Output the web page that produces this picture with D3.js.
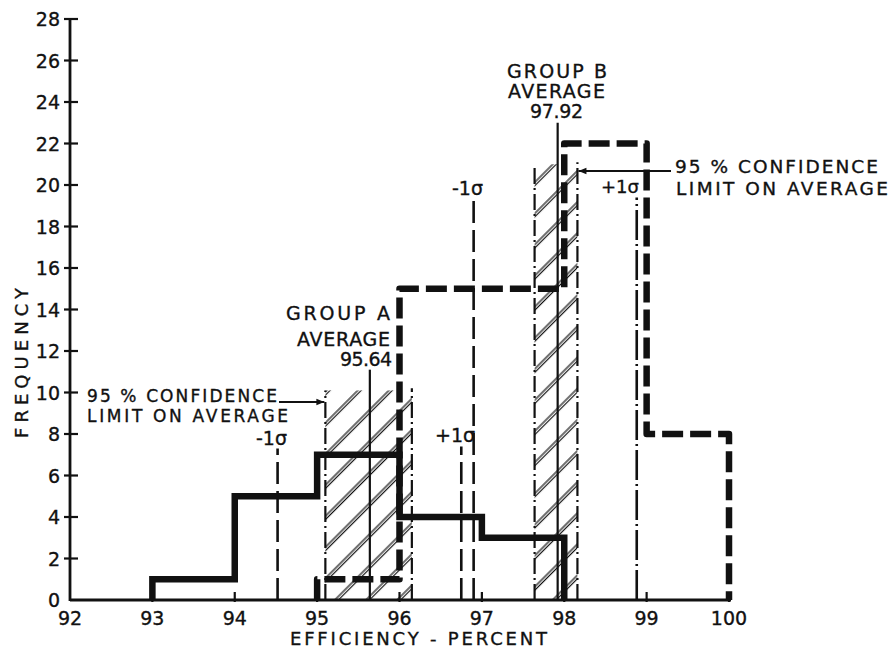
<!DOCTYPE html>
<html>
<head>
<meta charset="utf-8">
<script src="https://cdn.jsdelivr.net/npm/d3@7"></script>
<style>
  html, body { margin: 0; padding: 0; background: #fff; }
  svg { display: block; }
  text { font-family: "DejaVu Sans", sans-serif; fill: #111; stroke: #111; stroke-width: 0.35px; }
</style>
</head>
<body>
<svg id="chart" width="892" height="653"></svg>
<script>
// ---- data ----
// Histogram of efficiency (percent): bin edges and counts for each group
const edgesA = [93, 94, 95, 96, 97, 98];
const countsA = [1, 5, 7, 4, 3];
const edgesB = [95, 96, 97, 98, 99, 100];
const countsB = [1, 15, 15, 22, 8];

// Group statistics: average, 95% confidence limits on the average, ±1 sigma
const averages = [95.64, 97.92];
const confLow = [95.10, 97.64];
const confHigh = [96.15, 98.16];
const sigmaLow = [94.52, 96.90];
const sigmaHigh = [96.75, 98.88];

// Frequency reached by each marker line (group A, group B)
const avgTop = [11.1, 23.0];
const confTop = [10.1, 21.0];
const sigmaLowTop = [7.3, 19.4];
const sigmaHighTop = [7.4, 19.4];

// Axis ticks
const xTicks = [92, 93, 94, 95, 96, 97, 98, 99, 100];
const yTicks = [0, 2, 4, 6, 8, 10, 12, 14, 16, 18, 20, 22, 24, 26, 28];

// ---- drawing ----
const svg = d3.select("#chart");
const x = d3.scaleLinear().domain([92, 100]).range([70, 729]);
const y = d3.scaleLinear().domain([0, 28]).range([600, 19]);

// diagonal double-line hatching
const defs = svg.append("defs");
const pat = defs.append("pattern")
  .attr("id", "hatch")
  .attr("patternUnits", "userSpaceOnUse")
  .attr("width", 10).attr("height", 22)
  .attr("patternTransform", "rotate(-45)");
pat.append("line").attr("x1", 0).attr("x2", 10).attr("y1", 1).attr("y2", 1)
  .attr("stroke", "#111").attr("stroke-width", 1.2);
pat.append("line").attr("x1", 0).attr("x2", 10).attr("y1", 3.5).attr("y2", 3.5)
  .attr("stroke", "#111").attr("stroke-width", 1.2);

// confidence bands
svg.append("g").selectAll("rect")
  .data(d3.range(2))
  .join("rect")
  .attr("x", i => x(confLow[i]))
  .attr("width", i => x(confHigh[i]) - x(confLow[i]))
  .attr("y", i => y(confTop[i]))
  .attr("height", i => y(0) - y(confTop[i]))
  .attr("fill", "url(#hatch)");

// axes
const axisG = svg.append("g").attr("stroke", "#111").attr("fill", "none");
axisG.append("line").attr("x1", x(92)).attr("x2", x(100) + 2)
  .attr("y1", y(0)).attr("y2", y(0)).attr("stroke-width", 2.8);
axisG.append("line").attr("x1", x(92)).attr("x2", x(92))
  .attr("y1", y(0) + 1).attr("y2", y(28)).attr("stroke-width", 2.8);
axisG.selectAll(".yt").data(yTicks.filter(d => d > 0)).join("line")
  .attr("x1", x(92) - 6).attr("x2", x(92) + 8)
  .attr("y1", d => y(d)).attr("y2", d => y(d)).attr("stroke-width", 2.2);
axisG.selectAll(".xt").data(xTicks.slice(1)).join("line")
  .attr("x1", d => x(d)).attr("x2", d => x(d))
  .attr("y1", y(0) - 8).attr("y2", y(0) + 2).attr("stroke-width", 2.2);

svg.append("g").selectAll("text").data(yTicks).join("text")
  .attr("x", x(92) - 10).attr("y", d => y(d) + 7)
  .attr("text-anchor", "end").attr("font-size", 19)
  .text(d => d);
svg.append("g").selectAll("text").data(xTicks).join("text")
  .attr("x", d => x(d)).attr("y", 625)
  .attr("text-anchor", "middle").attr("font-size", 19)
  .text(d => d);

svg.append("text").attr("x", 290).attr("y", 645)
  .attr("font-size", 18).attr("textLength", 257).attr("lengthAdjust", "spacing")
  .text("EFFICIENCY - PERCENT");
svg.append("text").attr("transform", "translate(28,438) rotate(-90)")
  .attr("font-size", 18).attr("textLength", 150).attr("lengthAdjust", "spacing")
  .text("FREQUENCY");

// marker lines
function vline(g, xv, top, dash, w) {
  g.append("line")
    .attr("x1", x(xv)).attr("x2", x(xv))
    .attr("y1", y(0)).attr("y2", y(top))
    .attr("stroke", "#111").attr("stroke-width", w)
    .attr("stroke-dasharray", dash);
}
const marks = svg.append("g");
for (let i = 0; i < 2; i++) {
  vline(marks, averages[i], avgTop[i], null, 2.2);
  vline(marks, confLow[i], confTop[i], "16,4,2,4", 2.2);
  vline(marks, confHigh[i], confTop[i] + 0.1, "16,4,2,4", 2.2);
  vline(marks, sigmaLow[i], sigmaLowTop[i], "22,7", 2.6);
  vline(marks, sigmaHigh[i], sigmaHighTop[i], i === 1 ? "30,4,2,4" : "22,7", 2.6);
}

// histograms as step outlines
function stepPoints(edges, counts) {
  const pts = [[edges[0], 0]];
  counts.forEach((c, i) => { pts.push([edges[i], c]); pts.push([edges[i + 1], c]); });
  pts.push([edges[edges.length - 1], 0]);
  return pts;
}
const stepLine = d3.line().x(d => x(d[0])).y(d => y(d[1]));

svg.append("path")
  .datum(stepPoints(edgesB, countsB))
  .attr("d", stepLine)
  .attr("fill", "none").attr("stroke", "#111")
  .attr("stroke-width", 6.5).attr("stroke-dasharray", "21,7")
  .attr("stroke-linejoin", "round");
svg.append("path")
  .datum(stepPoints(edgesA, countsA))
  .attr("d", stepLine)
  .attr("fill", "none").attr("stroke", "#111")
  .attr("stroke-width", 6.5).attr("stroke-linejoin", "miter");

// annotations
function label(xp, yp, len, str, size) {
  const t = svg.append("text").attr("x", xp).attr("y", yp)
    .attr("font-size", size || 19)
    .text(str);
  if (len) t.attr("textLength", len).attr("lengthAdjust", "spacing");
}
label(507, 78, 100, "GROUP B");
label(508, 98, 97, "AVERAGE");
label(530, 118, 53, averages[1].toFixed(2));
label(675, 173, 203, "95 % CONFIDENCE", 18.5);
label(676, 195, 212, "LIMIT ON AVERAGE", 18.5);

label(286, 320, 104, "GROUP  A");
label(297, 346, 93, "AVERAGE");
label(340, 366, 52, averages[0].toFixed(2));
label(87, 402, 190, "95 % CONFIDENCE", 17);
label(87, 422, 201, "LIMIT ON AVERAGE", 17);

label(256, 445, null, "-1σ", 19);
label(435, 442, null, "+1σ", 19);
label(452, 195, null, "-1σ", 19);
label(601, 193, null, "+1σ", 18);

// arrows pointing at the confidence limits
defs.append("marker").attr("id", "arrow")
  .attr("viewBox", "0 0 10 10").attr("refX", 10).attr("refY", 5)
  .attr("markerWidth", 11).attr("markerHeight", 8)
  .attr("markerUnits", "userSpaceOnUse").attr("orient", "auto")
  .append("path").attr("d", "M0,1 L10,5 L0,9 Z").attr("fill", "#111");
svg.append("line").attr("x1", 279).attr("x2", x(confLow[0]) - 1)
  .attr("y1", 402).attr("y2", 402)
  .attr("stroke", "#111").attr("stroke-width", 1.8).attr("marker-end", "url(#arrow)");
svg.append("line").attr("x1", 671).attr("x2", x(confHigh[1]) + 1)
  .attr("y1", 171).attr("y2", 171)
  .attr("stroke", "#111").attr("stroke-width", 1.8).attr("marker-end", "url(#arrow)");
</script>
</body>
</html>
